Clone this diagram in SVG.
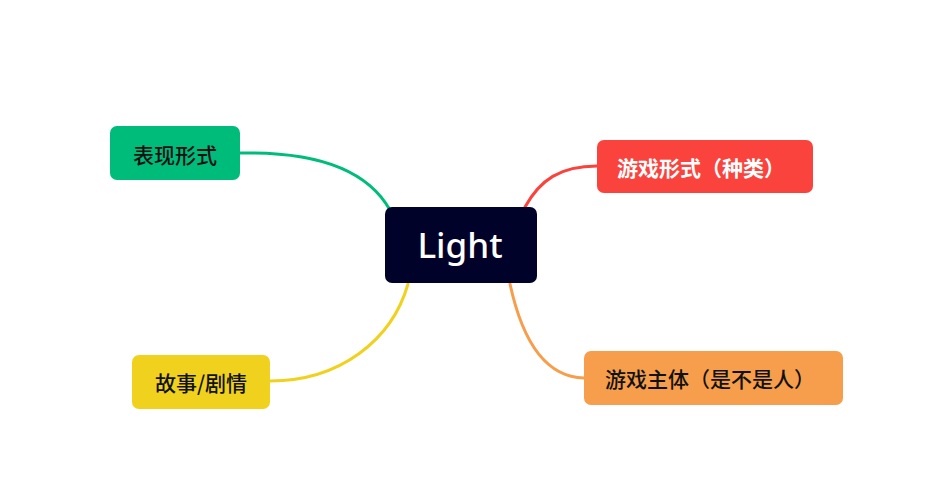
<svg xmlns="http://www.w3.org/2000/svg" width="925" height="478" viewBox="0 0 925 478">
<style>
.lbl{font-family:"Noto Sans CJK SC","Noto Sans",sans-serif;font-size:21px;font-weight:500;fill:#111111}
.conn path{fill:none;stroke-width:3;stroke-linecap:round}
</style>
<rect width="925" height="478" fill="#ffffff"/>
<g id="connectors" class="conn">
<path d="M240 153 C330 151 372 178 390 210" stroke="#00BC7B"/>
<path d="M525 207 C540 180 560 166 597 166" stroke="#FA433C"/>
<path d="M408 284 C392 340 340 381 270 381" stroke="#F0D21E"/>
<path d="M510 284 C520 330 540 377 584 378" stroke="#F69E4B"/>
</g>
<g id="node-center">
<rect x="385" y="207" width="152" height="76" rx="7" fill="#000229"/>
<text x="460" y="258" text-anchor="middle" font-family="'Noto Sans','Liberation Sans',sans-serif" font-size="35" font-weight="500" fill="#ffffff">Light</text>
</g>
<g id="node-green">
<rect x="110" y="126" width="130" height="54" rx="7" fill="#00BC7B"/>
<text class="lbl" x="175" y="154" text-anchor="middle" dominant-baseline="central">表现形式</text>
</g>
<g id="node-red">
<rect x="597" y="140" width="216" height="53" rx="7" fill="#FA433C"/>
<text class="lbl" x="617" y="167" dominant-baseline="central" style="fill:#ffffff;font-weight:700">游戏形式（种类）</text>
</g>
<g id="node-yellow">
<rect x="132" y="355" width="138" height="54" rx="7" fill="#F0D21E"/>
<text class="lbl" x="201" y="382" text-anchor="middle" dominant-baseline="central">故事/剧情</text>
</g>
<g id="node-orange">
<rect x="584" y="351" width="259" height="54" rx="7" fill="#F69E4B"/>
<text class="lbl" x="605" y="378" dominant-baseline="central">游戏主体（是不是人）</text>
</g>
</svg>
